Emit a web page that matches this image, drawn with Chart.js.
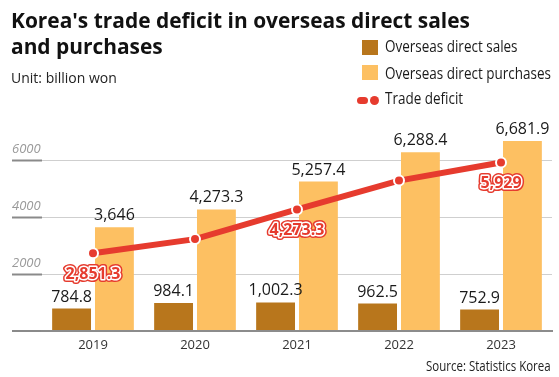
<!DOCTYPE html>
<html>
<head>
<meta charset="utf-8">
<title>Korea's trade deficit in overseas direct sales and purchases</title>
<script src="https://cdn.jsdelivr.net/npm/chart.js@4.4.1/dist/chart.umd.min.js"></script>
<style>
  html, body { margin: 0; padding: 0; background: #fff; }
  #wrap { position: relative; width: 559px; height: 377px; overflow: hidden;
          font-family: 'Open Sans', 'Noto Sans', sans-serif; color: #1a1a1a; }
  #chart { position: absolute; left: 0; top: 0; }
  .txt { position: absolute; white-space: nowrap; line-height: 1; width: max-content; transform-origin: left top; }
  .title { left: 11px; font-size: 21px; font-weight: 700; color: #111; }
  #title1 { top: 10px; }
  #title2 { top: 36px; }
  #unit { left: 11px; top: 71px; font-size: 14px; color: #222; }
  .leg { left: 385px; font-size: 16px; color: #1a1a1a; }
  #leg1 { top: 38px; }
  #leg2 { top: 65px; }
  #leg3 { top: 90px; }
  .box { position: absolute; left: 362px; width: 16px; height: 15px; }
  #box1 { top: 40px; background: #b8761c; }
  #box2 { top: 65px; background: #fdc062; }
  #seg { position: absolute; left: 357px; top: 97px; width: 11px; height: 7px; border-radius: 3.5px; background: #e63b2e; }
  #dot { position: absolute; left: 369.5px; top: 96px; width: 9px; height: 9px; border-radius: 50%; background: #e63b2e; }
  #source { right: 8px; top: 358px; font-size: 15px; color: #222; transform-origin: right top; }
</style>
</head>
<body>
<div id="wrap">
  <canvas id="chart" width="559" height="377"></canvas>
  <div class="txt title" id="title1">Korea's trade deficit in overseas direct sales</div>
  <div class="txt title" id="title2">and purchases</div>
  <div class="txt" id="unit">Unit: billion won</div>
  <div class="box" id="box1"></div>
  <div class="box" id="box2"></div>
  <div id="seg"></div>
  <div id="dot"></div>
  <div class="txt leg" id="leg1">Overseas direct sales</div>
  <div class="txt leg" id="leg2">Overseas direct purchases</div>
  <div class="txt leg" id="leg3">Trade deficit</div>
  <div class="txt" id="source">Source: Statistics Korea</div>
</div>
<script>
// Dados do gráfico
const years = ['2019', '2020', '2021', '2022', '2023'];
const directSales = [784.8, 984.1, 1002.3, 962.5, 752.9];
const directPurchases = [3646, 4273.3, 5257.4, 6288.4, 6681.9];
// posição dos pontos
const tradeDeficit = [2730, 3230, 4273.3, 5290, 5929];
const deficitLabels = ['2,851.3', '', '4,273.3', '', '5,929'];
const yTicks = [0, 2000, 4000, 6000];
const yMax = 7000;

const SALES_COLOR = '#b8761c';
const PURCHASE_COLOR = '#fdc062';
const RED = '#e63b2e';

function fmt(v) {
    return v.toLocaleString('en-US', { maximumFractionDigits: 1 });
}

// Condensar textos para a largura do original
function fitWidth(ids, target) {
    ids.forEach(id => { document.getElementById(id).style.transform = 'none'; });
    const ref = document.getElementById(ids[0]);
    const k = target / ref.scrollWidth;
    ids.forEach(id => {
        document.getElementById(id).style.transform = 'scaleX(' + k + ')';
    });
}
function fitAll() {
    fitWidth(['title1', 'title2'], 459);
    fitWidth(['unit'], 106);
    fitWidth(['leg2', 'leg1', 'leg3'], 166);
    fitWidth(['source'], 125);
}
fitAll();

// Rótulos de valores sobre as barras e do déficit
const valueLabels = {
    id: 'valueLabels',
    afterDatasetsDraw(chart) {
        const ctx = chart.ctx;
        ctx.save();
        ctx.font = '16px "Open Sans"';
        ctx.fillStyle = '#1a1a1a';
        ctx.textAlign = 'center';
        ctx.textBaseline = 'alphabetic';
        [0, 1].forEach(di => {
            const ds = chart.data.datasets[di];
            chart.getDatasetMeta(di).data.forEach((bar, i) => {
                ctx.fillText(fmt(ds.data[i]), bar.x, bar.y - 7);
            });
        });

        ctx.font = 'bold 16px "Open Sans"';
        ctx.textBaseline = 'middle';
        ctx.lineJoin = 'round';
        const xScale = chart.scales.x;
        chart.getDatasetMeta(2).data.forEach((pt, i) => {
            const txt = deficitLabels[i];
            if (!txt) return;
            const x = xScale.getPixelForValue(i);
            const y = pt.y + 21;
            ctx.strokeStyle = RED;
            ctx.lineWidth = 6;
            ctx.strokeText(txt, x, y);
            ctx.strokeStyle = '#fff';
            ctx.lineWidth = 3;
            ctx.strokeText(txt, x, y);
            ctx.fillStyle = RED;
            ctx.fillText(txt, x, y);
        });
        ctx.restore();
    }
};

const chart = new Chart(document.getElementById('chart'), {
    type: 'bar',
    data: {
        labels: years,
        datasets: [{
            label: 'Overseas direct sales',
            data: directSales,
            backgroundColor: SALES_COLOR,
            categoryPercentage: 0.84,
            barPercentage: 0.907,
            order: 1
        }, {
            label: 'Overseas direct purchases',
            data: directPurchases,
            backgroundColor: PURCHASE_COLOR,
            categoryPercentage: 0.84,
            barPercentage: 0.907,
            order: 1
        }, {
            type: 'line',
            label: 'Trade deficit',
            data: tradeDeficit,
            borderColor: RED,
            borderWidth: 6,
            tension: 0,
            pointRadius: 5,
            pointBackgroundColor: RED,
            pointBorderColor: '#fff',
            pointBorderWidth: 2,
            order: 0
        }]
    },
    options: {
        responsive: false,
        animation: false,
        layout: {
            padding: { left: 12, right: 4.5, top: 132, bottom: 16.5 }
        },
        scales: {
            x: {
                grid: { display: false, drawTicks: false },
                border: { color: '#8c8c8c', width: 2 },
                ticks: {
                    color: '#333',
                    font: { family: 'Open Sans', size: 13 },
                    padding: 7
                }
            },
            y: {
                min: 0,
                max: yMax,
                afterBuildTicks(scale) {
                    scale.ticks = yTicks.map(v => ({ value: v }));
                },
                afterFit(scale) {
                    scale.width = 30;
                },
                border: { display: false },
                grid: {
                    color: ctx => ctx.tick && ctx.tick.value === 0 ? '#8c8c8c' : '#cfcfcf',
                    lineWidth: ctx => ctx.tick && ctx.tick.value === 0 ? 2 : 1,
                    drawTicks: true,
                    tickLength: 30,
                    tickColor: '#8a8a8a',
                    tickWidth: 2
                },
                ticks: {
                    crossAlign: 'far',
                    labelOffset: -11,
                    padding: 0,
                    color: '#9a9a9a',
                    font: { family: 'Open Sans', size: 13, style: 'italic' },
                    callback: v => v === 0 ? '' : String(v)
                }
            }
        },
        plugins: {
            legend: { display: false },
            tooltip: { enabled: false }
        }
    },
    plugins: [valueLabels]
});

if (document.fonts && document.fonts.ready) {
    document.fonts.ready.then(() => { fitAll(); chart.draw(); });
}
</script>
</body>
</html>
